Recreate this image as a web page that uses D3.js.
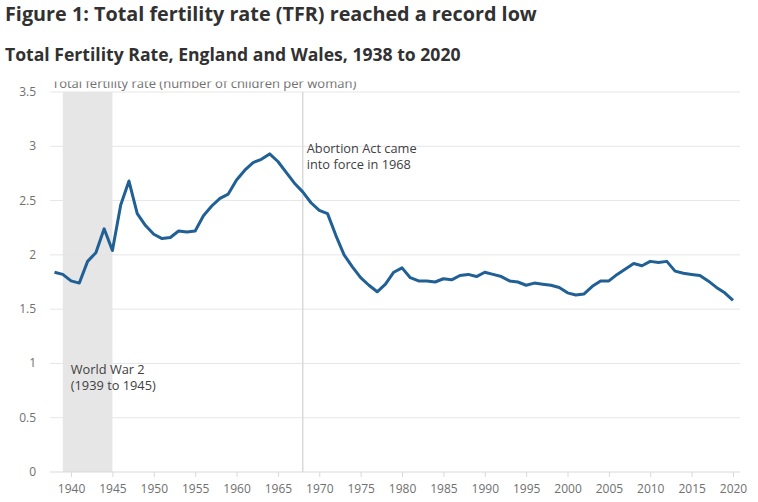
<!DOCTYPE html>
<html>
<head>
<meta charset="utf-8">
<script src="https://cdn.jsdelivr.net/npm/d3@7"></script>
<style>
  body { margin: 0; background: #fff; }
  text { font-family: "Open Sans", sans-serif; }
</style>
</head>
<body>
<div id="chart"></div>
<script>
// TFR, England and Wales
const years = d3.range(1938, 2021);
const tfr = [
  1.84, 1.82, 1.76, 1.74, 1.94, 2.02, 2.24, 2.04, 2.46, 2.68,
  2.38, 2.27, 2.19, 2.15, 2.16, 2.22, 2.21, 2.22, 2.36, 2.45,
  2.52, 2.56, 2.69, 2.78, 2.85, 2.88, 2.93, 2.86, 2.76, 2.66,
  2.58, 2.48, 2.41, 2.38, 2.18, 2.00, 1.89, 1.79, 1.72, 1.66,
  1.73, 1.84, 1.88, 1.79, 1.76, 1.76, 1.75, 1.78, 1.77, 1.81,
  1.82, 1.80, 1.84, 1.82, 1.80, 1.76, 1.75, 1.72, 1.74, 1.73,
  1.72, 1.70, 1.65, 1.63, 1.64, 1.71, 1.76, 1.76, 1.82, 1.87,
  1.92, 1.90, 1.94, 1.93, 1.94, 1.85, 1.83, 1.82, 1.81, 1.76,
  1.70, 1.65, 1.58
];
const xTicks = d3.range(1940, 2021, 5);
const yTicks = [0, 0.5, 1, 1.5, 2, 2.5, 3, 3.5];
const warYears = [1939, 1945];
const abortionYear = 1968;

const width = 758, height = 502;
const left = 50, right = 740;

const svg = d3.select('#chart').append('svg')
  .attr('width', width)
  .attr('height', height);

const x = d3.scaleLinear().domain([1938, 2020]).range([54.5, 733]);
const y = d3.scaleLinear().domain([0, 3.5]).range([472, 92]);

// titles
svg.append('text')
  .attr('x', 5).attr('y', 21)
  .style('font-size', '19.8px').style('font-weight', 700)
  .attr('fill', '#323132')
  .text('Figure 1: Total fertility rate (TFR) reached a record low');

svg.append('text')
  .attr('x', 5).attr('y', 61)
  .style('font-size', '17.6px').style('font-weight', 700)
  .attr('fill', '#323132')
  .text('Total Fertility Rate, England and Wales, 1938 to 2020');

// WW2 shading
svg.append('rect')
  .attr('x', x(warYears[0]))
  .attr('y', y(3.5))
  .attr('width', x(warYears[1]) - x(warYears[0]))
  .attr('height', y(0) - y(3.5))
  .attr('fill', '#e6e6e6');

// gridlines
svg.append('g')
  .selectAll('line')
  .data(yTicks.slice(1))
  .enter().append('line')
  .attr('x1', left).attr('x2', right)
  .attr('y1', (d) => y(d)).attr('y2', (d) => y(d))
  .attr('stroke', '#e6e6e6')
  .attr('stroke-width', 1);

// y-axis tick labels
svg.append('g')
  .selectAll('text')
  .data(yTicks)
  .enter().append('text')
  .attr('x', 36).attr('y', (d) => y(d) + 4)
  .attr('text-anchor', 'end')
  .style('font-size', '12px')
  .attr('fill', '#707070')
  .text((d) => d);

// y-axis label, top cut off like the original
svg.append('clipPath').attr('id', 'ylab-clip')
  .append('rect').attr('x', 0).attr('y', 81.5).attr('width', width).attr('height', 20);
svg.append('text')
  .attr('x', 52).attr('y', 88)
  .attr('clip-path', 'url(#ylab-clip)')
  .style('font-size', '13px')
  .attr('fill', '#707070')
  .text('Total fertility rate (number of children per woman)');

// x-axis
const xAxis = d3.axisBottom(x)
  .tickValues(xTicks)
  .tickFormat(d3.format('d'))
  .tickSize(5)
  .tickPadding(7)
  .tickSizeOuter(0);

const gx = svg.append('g')
  .attr('transform', 'translate(0,' + y(0) + ')')
  .call(xAxis);
gx.select('.domain').remove();
gx.append('line')
  .attr('x1', left).attr('x2', right)
  .attr('stroke', '#d9d9d9');
gx.selectAll('.tick line').attr('stroke', '#d9d9d9');
gx.selectAll('.tick text')
  .style('font-family', '"Open Sans", sans-serif')
  .style('font-size', '12px')
  .attr('fill', '#707070');

// Abortion Act marker
svg.append('line')
  .attr('x1', x(abortionYear)).attr('x2', x(abortionYear))
  .attr('y1', y(3.5)).attr('y2', y(0))
  .attr('stroke', '#d9d9d9')
  .attr('stroke-width', 1.5);

// line
const line = d3.line()
  .x((d, i) => x(years[i]))
  .y((d) => y(d));

svg.append('path')
  .datum(tfr)
  .attr('fill', 'none')
  .attr('stroke', '#206095')
  .attr('stroke-width', 3)
  .attr('stroke-linejoin', 'round')
  .attr('d', line);

// annotations
const notes = [
  {x: x(abortionYear) + 4, y: 153, lines: ['Abortion Act came', 'into force in 1968']},
  {x: x(warYears[0]) + 8, y: 374, lines: ['World War 2', '(1939 to 1945)']}
];
notes.forEach((n) => {
  const t = svg.append('text')
    .attr('x', n.x).attr('y', n.y)
    .style('font-size', '12.8px')
    .attr('fill', '#414042');
  n.lines.forEach((s, i) => {
    t.append('tspan').attr('x', n.x).attr('dy', i ? 15.5 : 0).text(s);
  });
});
</script>
</body>
</html>
